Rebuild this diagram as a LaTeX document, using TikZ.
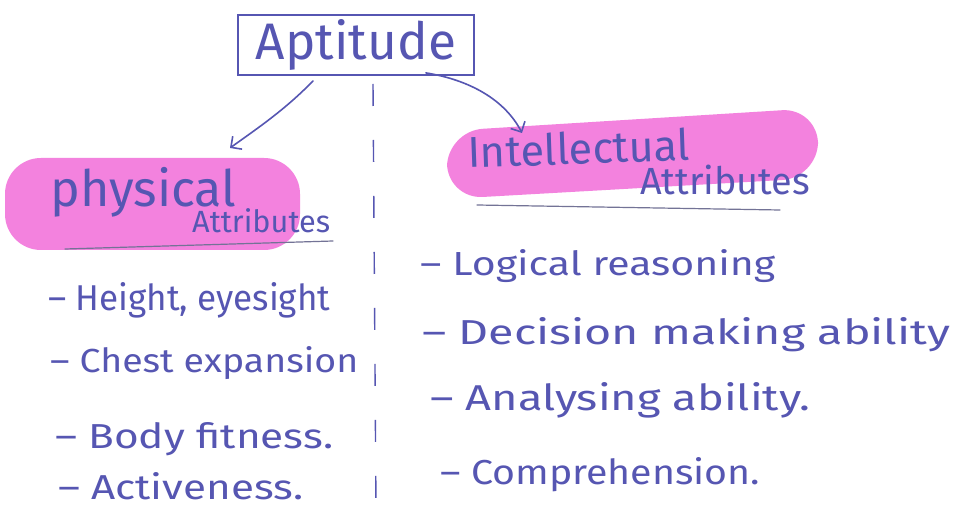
\documentclass[tikz,border=0pt]{standalone}
\usepackage{fontspec}
\setmainfont{Fira Sans}
\usetikzlibrary{arrows.meta}
\definecolor{ink}{RGB}{86,86,178}
\definecolor{marker}{RGB}{243,130,222}
\definecolor{rulegray}{RGB}{115,115,150}
% set a line of text to a given width (in pt)
\newcommand{\fitw}[2]{\resizebox{#1pt}{!}{#2}}
% set a line of text to a given width and ascender height (in pt)
\newcommand{\fitwh}[3]{\resizebox{#1pt}{#2pt}{#3}}
\tikzset{
  hw/.style={inner sep=0pt, text=ink, anchor=base west},
  inkline/.style={draw=ink, line width=1.6pt, line cap=round, line join=round},
  highlight/.style={fill=marker, draw=none, rounded corners=36pt},
  underline/.style={draw=rulegray, line width=1.2pt, line cap=round},
  barb/.style={-{Straight Barb[length=8pt,width=16pt,line width=1.6pt]}},
}
\begin{document}
\begin{tikzpicture}[x=1pt,y=-1pt]
\useasboundingbox[fill=white] (0,0) rectangle (957,510);

% marker highlights behind the two headings
\fill[highlight] (5,158) rectangle (300,250);
\fill[highlight] (447,131) -- (818,108) -- (818,178) -- (447,199) -- cycle;

% title box
\node[draw=ink, line width=1.8pt, minimum width=236pt, minimum height=60pt, text=ink, inner sep=0pt]
  (apt) at (356,45) {\fitw{200}{Aptitude}};

% headings
\node[hw] (phys) at (50,207) {\fitw{186}{physical}};
\node[hw] (physattr) at (192,233) {\fitw{138}{Attributes}};
\node[hw, rotate=2] (intel) at (468,168) {\fitw{222}{Intellectual}};
\node[hw] (intelattr) at (640,195) {\fitw{170}{Attributes}};

% underlines
\draw[underline] (65,249) -- (333,241);
\draw[underline] (477,205) -- (780,210);

% arrows from the title to the two headings
\coordinate (phyTip) at (230,148);
\coordinate (intTip) at (522,133);
\draw[inkline, barb] ([xshift=-43pt, yshift=-5pt]apt.south) .. controls (285,110) and (255,130) .. (phyTip);
\draw[inkline, barb] ([xshift=-49pt, yshift=3pt]apt.south east) .. controls (470,80) and (505,100) .. (intTip);

% dividing line
\draw[draw=ink, line width=1.4pt, dash pattern=on 22pt off 34pt] (373,84) -- (376,510);

% physical attributes list
\node[hw] (p1) at (48,310) {\fitwh{282}{28}{– Height, eyesight}};
\node[hw] (p2) at (50,372) {\fitwh{308}{26}{– Chest expansion}};
\node[hw] (p3) at (55,448) {\fitwh{278}{26}{– Body fitness.}};
\node[hw] (p4) at (58,499) {\fitwh{245}{27}{– Activeness.}};

% intellectual attributes list
\node[hw] (i1) at (420,276) {\fitwh{355}{26}{– Logical reasoning}};
\node[hw] (i2) at (422,344) {\fitwh{528}{27}{– Decision making ability}};
\node[hw] (i3) at (430,410) {\fitwh{380}{28}{– Analysing ability.}};
\node[hw] (i4) at (440,484) {\fitwh{320}{27}{– Comprehension.}};
\end{tikzpicture}
\end{document}
